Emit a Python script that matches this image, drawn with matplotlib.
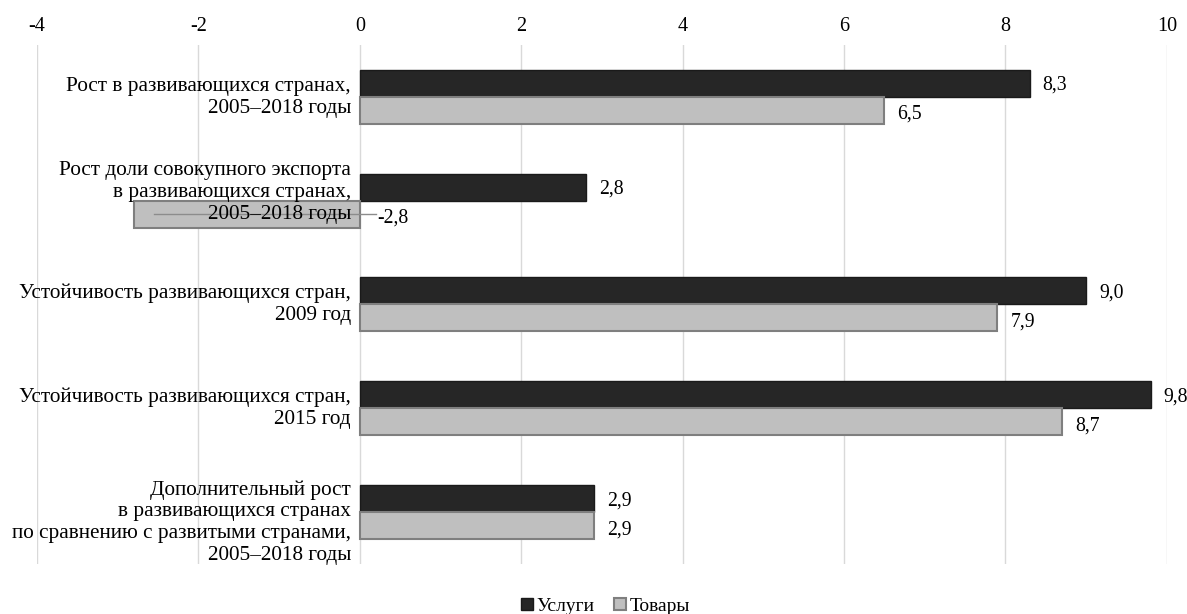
import matplotlib
matplotlib.use("Agg")
import matplotlib.pyplot as plt
import numpy as np

# Категории и значения (читаются с картинки)
categorias = [
    "Рост в развивающихся странах,\n2005–2018 годы",
    "Рост доли совокупного экспорта\nв развивающихся странах,\n2005–2018 годы",
    "Устойчивость развивающихся стран,\n2009 год",
    "Устойчивость развивающихся стран,\n2015 год",
    "Дополнительный рост\nв развивающихся странах\nпо сравнению с развитыми странами,\n2005–2018 годы",
]
uslugi = [8.3, 2.8, 9.0, 9.8, 2.9]
tovary = [6.5, -2.8, 7.9, 8.7, 2.9]
ticks_x = [-4, -2, 0, 2, 4, 6, 8, 10]

plt.rcParams["font.family"] = ["Liberation Serif", "DejaVu Serif"]

fig = plt.figure(figsize=(11.87, 6.14), dpi=100)
ax = fig.add_axes([0.0312, 0.0814, 0.9518, 0.8456])

y = np.arange(len(categorias))
h = 0.26
ax.barh(y - h / 2, uslugi, height=h, color="#262626", edgecolor="#1a1a1a",
        linewidth=1, label="Услуги", zorder=3)
ax.barh(y + h / 2, tovary, height=h, color="#bfbfbf", edgecolor="#7f7f7f",
        linewidth=1.5, label="Товары", zorder=3)

def fmt(v):
    return f"{v:.1f}".replace(".", ",")

# небольшой сдвиг подписей категорий, как в оригинале
sdvig = [0.01, -0.08, 0.0, 0.0, 0.1]

fs_val = 14.2
for i in range(len(categorias)):
    ax.text(uslugi[i] + 0.16, y[i] - h / 2 + 0.02, fmt(uslugi[i]), va="center",
            ha="left", fontsize=fs_val, zorder=5)
    if tovary[i] >= 0:
        ax.text(tovary[i] + 0.16, y[i] + h / 2 + 0.04, fmt(tovary[i]),
                va="center", ha="left", fontsize=fs_val, zorder=5)
    else:
        # выноска для отрицательного значения
        ax.plot([tovary[i] + 0.25, 0.2], [y[i] + h / 2, y[i] + h / 2],
                color="#8c8c8c", linewidth=1, zorder=4)
        ax.text(0.22, y[i] + h / 2 + 0.04, fmt(tovary[i]), va="center",
                ha="left", fontsize=fs_val, zorder=5)
    # подписи категорий слева от нуля
    ax.text(-0.11, y[i] + sdvig[i], categorias[i], ha="right", va="center",
            fontsize=15.3, multialignment="right", linespacing=1.2, zorder=6)

ax.set_xlim(-4, 10)
ax.set_ylim(len(categorias) - 0.5, -0.5)
ax.set_xticks(ticks_x)
ax.set_xticklabels([str(t) for t in ticks_x], fontsize=14.5)
ax.xaxis.tick_top()
ax.tick_params(axis="x", length=0, pad=6)
ax.set_yticks([])
ax.grid(axis="x", color="#d9d9d9", linewidth=1, zorder=0)
for s in ax.spines.values():
    s.set_visible(False)

fig.legend(loc="lower center", bbox_to_anchor=(0.51, -0.03), ncol=2,
           frameon=False, fontsize=14, handlelength=0.6, handleheight=0.6,
           handletextpad=0.2, columnspacing=1.0)

fig.savefig("out.png", dpi=100)
plt.close()
